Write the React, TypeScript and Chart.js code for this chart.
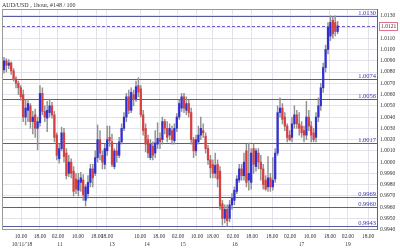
import { useEffect, useRef } from "react";
import { Chart, registerables } from "chart.js";
Chart.register(...registerables);

const chartTitle = "AUD/USD , 1hour, #148 / 100";

const opens = [1.0082,1.0090,1.0086,1.0088,1.0081,1.0074,1.0070,1.0066,1.0060,1.0040,1.0046,1.0050,1.0036,1.0042,1.0030,1.0035,1.0061,1.0045,1.0039,1.0044,1.0050,1.0042,1.0024,1.0003,1.0012,1.0026,1.0008,0.9990,1.0000,0.9992,0.9985,0.9975,0.9982,0.9984,0.9966,0.9972,0.9982,0.9994,0.9990,1.0004,1.0020,1.0006,0.9998,1.0010,1.0022,1.0018,0.9996,1.0010,1.0006,1.0018,1.0030,1.0040,1.0058,1.0046,1.0060,1.0056,1.0068,1.0065,1.0042,1.0030,1.0020,1.0004,1.0014,1.0008,1.0016,1.0021,1.0020,1.0036,1.0030,1.0024,1.0028,1.0019,1.0030,1.0040,1.0048,1.0058,1.0046,1.0052,1.0044,1.0020,1.0010,1.0018,1.0024,1.0028,1.0023,1.0012,1.0002,0.9998,0.9990,0.9998,0.9992,0.9963,0.9950,0.9958,0.9950,0.9962,0.9966,0.9974,0.9984,0.9994,0.9988,1.0010,0.9984,0.9982,1.0012,0.9996,1.0008,1.0000,0.9994,0.9984,0.9978,0.9986,0.9978,0.9985,1.0008,1.0044,1.0048,1.0040,1.0032,1.0024,1.0022,1.0034,1.0042,1.0034,1.0032,1.0028,1.0024,1.0040,1.0032,1.0026,1.0022,1.0040,1.0050,1.0066,1.0084,1.0100,1.0112,1.0126,1.0124,1.0116];
const highs = [1.0093,1.0092,1.0091,1.0089,1.0083,1.0076,1.0072,1.0068,1.0064,1.0055,1.0056,1.0052,1.0045,1.0047,1.0040,1.0068,1.0066,1.0050,1.0054,1.0056,1.0053,1.0045,1.0026,1.0016,1.0031,1.0030,1.0012,1.0006,1.0003,0.9996,0.9990,0.9990,0.9991,0.9989,0.9980,0.9988,0.9998,0.9998,1.0010,1.0033,1.0028,1.0010,1.0016,1.0032,1.0032,1.0025,1.0012,1.0016,1.0022,1.0034,1.0044,1.0061,1.0064,1.0066,1.0064,1.0072,1.0075,1.0068,1.0046,1.0034,1.0024,1.0020,1.0018,1.0028,1.0035,1.0026,1.0040,1.0038,1.0036,1.0034,1.0032,1.0034,1.0043,1.0055,1.0061,1.0061,1.0058,1.0055,1.0048,1.0022,1.0024,1.0032,1.0040,1.0034,1.0026,1.0015,1.0006,1.0002,1.0008,1.0002,0.9996,0.9966,0.9962,0.9962,0.9966,0.9972,0.9978,0.9988,0.9998,0.9998,1.0008,1.0016,1.0017,1.0012,1.0016,1.0012,1.0012,1.0006,0.9998,0.9988,1.0005,0.9990,1.0004,1.0012,1.0050,1.0057,1.0052,1.0044,1.0034,1.0028,1.0040,1.0050,1.0046,1.0044,1.0036,1.0032,1.0054,1.0046,1.0036,1.0030,1.0044,1.0057,1.0070,1.0088,1.0104,1.0124,1.0130,1.0129,1.0130,1.0125];
const lows = [1.0079,1.0080,1.0083,1.0078,1.0072,1.0066,1.0060,1.0055,1.0036,1.0033,1.0036,1.0030,1.0025,1.0022,1.0011,1.0032,1.0042,1.0036,1.0027,1.0040,1.0039,1.0018,1.0002,0.9999,1.0010,1.0000,0.9985,0.9987,0.9986,0.9970,0.9972,0.9970,0.9974,0.9966,0.9961,0.9968,0.9978,0.9978,0.9988,1.0000,1.0002,0.9994,0.9994,1.0006,1.0014,0.9996,0.9994,1.0000,1.0004,1.0016,1.0028,1.0036,1.0043,1.0044,1.0050,1.0054,1.0058,1.0040,1.0024,1.0009,1.0004,1.0002,1.0002,1.0004,1.0012,1.0012,1.0016,1.0025,1.0018,1.0020,1.0016,1.0016,1.0027,1.0038,1.0045,1.0044,1.0042,1.0040,1.0016,1.0004,1.0006,1.0016,1.0020,1.0022,1.0008,0.9998,0.9986,0.9986,0.9986,0.9978,0.9958,0.9944,0.9946,0.9943,0.9947,0.9958,0.9962,0.9972,0.9982,0.9984,0.9984,0.9978,0.9975,0.9976,0.9990,0.9992,0.9994,0.9984,0.9976,0.9975,0.9974,0.9974,0.9975,0.9982,1.0006,1.0040,1.0034,1.0028,1.0018,1.0019,1.0018,1.0030,1.0030,1.0024,1.0022,1.0018,1.0020,1.0028,1.0018,1.0018,1.0018,1.0036,1.0046,1.0062,1.0080,1.0096,1.0108,1.0110,1.0112,1.0114];
const closes = [1.0090,1.0086,1.0088,1.0081,1.0074,1.0070,1.0066,1.0058,1.0040,1.0048,1.0052,1.0036,1.0040,1.0030,1.0036,1.0061,1.0045,1.0040,1.0046,1.0050,1.0042,1.0022,1.0006,1.0012,1.0026,1.0005,0.9988,1.0000,0.9990,0.9974,0.9976,0.9984,0.9986,0.9971,0.9978,0.9982,0.9994,0.9986,1.0004,1.0020,1.0008,1.0000,1.0012,1.0020,1.0019,0.9998,1.0010,1.0006,1.0018,1.0030,1.0040,1.0058,1.0046,1.0062,1.0056,1.0067,1.0062,1.0042,1.0028,1.0016,1.0008,1.0016,1.0006,1.0017,1.0021,1.0018,1.0036,1.0030,1.0022,1.0030,1.0020,1.0030,1.0040,1.0052,1.0058,1.0048,1.0052,1.0044,1.0020,1.0010,1.0020,1.0024,1.0030,1.0026,1.0012,1.0002,0.9995,0.9990,0.9997,0.9985,0.9961,0.9950,0.9958,0.9948,0.9962,0.9968,0.9975,0.9985,0.9994,0.9988,1.0000,0.9982,0.9990,1.0008,0.9998,1.0010,1.0000,0.9994,0.9980,0.9976,0.9986,0.9978,0.9984,1.0008,1.0044,1.0048,1.0038,1.0032,1.0022,1.0020,1.0034,1.0042,1.0034,1.0030,1.0026,1.0024,1.0040,1.0032,1.0024,1.0020,1.0040,1.0050,1.0066,1.0084,1.0100,1.0120,1.0124,1.0114,1.0116,1.0121];

const timeTickPos = [7.1, 15, 22.5, 30.8, 38.75, 42.9, 56.7, 64.6, 72.5, 80.4, 87, 95.4, 103.3, 111.7, 119.2, 127.5, 135.8, 143.3, 151.7];
const timeTickLabels = ["10.00","18.00","02.00","10.00","18.00","18.00","10.00","18.00","02.00","10.00","18.00","02.00","18.00","18.00","02.00","10.00","18.00","02.00","18.00"];
const dateTickPos = [7.5, 23.3, 45, 59.6, 74.6, 96.25, 124, 143.3];
const dateTickLabels = ["10/11/'18","11","13","14","15","16","17","19"];
const priceTicks = [0.9940,0.9950,0.9960,0.9970,0.9980,0.9990,1.0000,1.0010,1.0020,1.0030,1.0040,1.0050,1.0060,1.0070,1.0080,1.0090,1.0100,1.0110,1.0120,1.0130];
const levels = [1.0130, 1.0074, 1.0056, 1.0017, 0.9969, 0.9960, 0.9943];
const lastPrice = 1.0121;

const FONT = "Liberation Serif";

export default function App() {
  const ref = useRef<HTMLCanvasElement>(null);
  useEffect(() => {
    document.body.style.margin = "0";
    const canvas = ref.current!;
    const wickData = opens.map((_, i) => ({ x: i, y: [lows[i], highs[i]] }));
    const bodyData = opens.map((o, i) => ({ x: i, y: [o, closes[i]] }));
    const bodyColors = opens.map((o, i) => (closes[i] >= o ? "#3030d0" : "#d84040"));

    const overlay = {
      id: "overlay",
      beforeDraw(chart: any) {
        const { ctx } = chart;
        ctx.save();
        ctx.fillStyle = "#ffffff";
        ctx.fillRect(0, 0, chart.width, chart.height);
        ctx.restore();
      },
      beforeDatasetsDraw(chart: any) {
        const { ctx, chartArea: a, scales } = chart;
        const y = scales.y;
        ctx.save();
        ctx.lineWidth = 1;
        ctx.strokeStyle = "#5a5a9e";
        levels.forEach((l) => {
          const py = Math.round(y.getPixelForValue(l)) + 0.5;
          ctx.beginPath();
          ctx.moveTo(a.left, py);
          ctx.lineTo(a.right, py);
          ctx.stroke();
        });
        const dy = Math.round(y.getPixelForValue(lastPrice)) + 0.5;
        ctx.strokeStyle = "#6a5ac8";
        ctx.setLineDash([3, 2]);
        ctx.beginPath();
        ctx.moveTo(a.left, dy);
        ctx.lineTo(a.right, dy);
        ctx.stroke();
        ctx.restore();
      },
      afterDatasetsDraw(chart: any) {
        const { ctx, chartArea: a, scales } = chart;
        const y = scales.y;
        ctx.save();
        ctx.font = `6.5px "${FONT}"`;
        ctx.fillStyle = "#3a3aa8";
        ctx.textAlign = "right";
        ctx.textBaseline = "alphabetic";
        levels.forEach((l) => {
          const py = Math.round(y.getPixelForValue(l));
          ctx.fillText(l.toFixed(4), a.right - 2, py - 1);
        });
        ctx.strokeStyle = "#999999";
        ctx.lineWidth = 1;
        ctx.strokeRect(a.left + 0.5, a.top + 0.5, a.right - a.left - 1, a.bottom - a.top - 1);
        ctx.strokeStyle = "#5a5a9e";
        ctx.beginPath();
        ctx.moveTo(a.right - 0.5, a.top);
        ctx.lineTo(a.right - 0.5, a.bottom);
        ctx.stroke();
        ctx.restore();
      },
      afterDraw(chart: any) {
        const { ctx, chartArea: a, scales } = chart;
        const y = scales.y;
        ctx.save();
        const py = Math.round(y.getPixelForValue(lastPrice));
        ctx.fillStyle = "#ffffff";
        ctx.fillRect(a.right + 1, py - 4, 19, 9);
        ctx.strokeStyle = "#e07090";
        ctx.lineWidth = 1;
        ctx.strokeRect(a.right + 1.5, py - 3.5, 18, 8);
        ctx.font = `5.5px "${FONT}"`;
        ctx.fillStyle = "#333333";
        ctx.textAlign = "left";
        ctx.textBaseline = "middle";
        ctx.fillText(lastPrice.toFixed(4), a.right + 3, py + 0.5);
        ctx.textBaseline = "top";
        ctx.fillStyle = "#333333";
        ctx.font = `6px "${FONT}"`;
        ctx.fillText(chartTitle, 2, 2);
        ctx.restore();
      },
    };

    const tickFont = { family: FONT, size: 5.5 };
    const chart = new Chart(canvas, {
      type: "bar",
      data: {
        datasets: [
          {
            data: bodyData as any,
            backgroundColor: bodyColors,
            barThickness: 1.6,
            minBarLength: 1,
            borderWidth: 0,
            grouped: false,
            order: 0,
          } as any,
          {
            data: wickData as any,
            backgroundColor: "#909090",
            barThickness: 0.8,
            borderWidth: 0,
            grouped: false,
            order: 1,
          } as any,
        ],
      },
      options: {
        animation: false,
        responsive: false,
        devicePixelRatio: 1,
        layout: { padding: { left: 2, top: 9, right: 2, bottom: 0 } },
        plugins: { legend: { display: false }, tooltip: { enabled: false }, title: { display: false } },
        scales: {
          x: {
            type: "linear",
            position: "bottom",
            offset: false,
            min: -0.83,
            max: 155.83,
            grid: { color: "#e2e2ea", drawTicks: false, offset: false },
            border: { display: false },
            ticks: {
              autoSkip: false,
              maxRotation: 0,
              padding: 3,
              font: tickFont,
              color: "#333333",
              callback: (_v: any, idx: number) => timeTickLabels[idx],
            },
            afterBuildTicks: (s: any) => {
              s.ticks = timeTickPos.map((v) => ({ value: v }));
            },
            afterFit: (s: any) => {
              s.height = 11;
            },
          },
          x2: {
            type: "linear",
            position: "bottom",
            offset: false,
            min: -0.83,
            max: 155.83,
            grid: { display: false, drawTicks: false },
            border: { display: false },
            ticks: {
              autoSkip: false,
              maxRotation: 0,
              padding: 0,
              font: tickFont,
              color: "#333333",
              callback: (_v: any, idx: number) => dateTickLabels[idx],
            },
            afterBuildTicks: (s: any) => {
              s.ticks = dateTickPos.map((v) => ({ value: v }));
            },
            afterFit: (s: any) => {
              s.height = 9;
            },
          },
          y: {
            type: "linear",
            position: "right",
            min: 0.99397,
            max: 1.0136,
            grid: { color: "#e2e2ea", drawTicks: false },
            border: { display: false },
            ticks: {
              autoSkip: false,
              padding: 2,
              font: tickFont,
              color: "#333333",
              callback: (v: any) => Number(v).toFixed(4),
            },
            afterBuildTicks: (s: any) => {
              s.ticks = priceTicks.map((v) => ({ value: v }));
            },
            afterFit: (s: any) => {
              s.width = 20;
            },
          },
        },
      },
      plugins: [overlay],
    });
    return () => chart.destroy();
  }, []);
  return (
    <div style={{ width: 400, height: 250 }}>
      <canvas ref={ref} width={400} height={250} />
    </div>
  );
}
